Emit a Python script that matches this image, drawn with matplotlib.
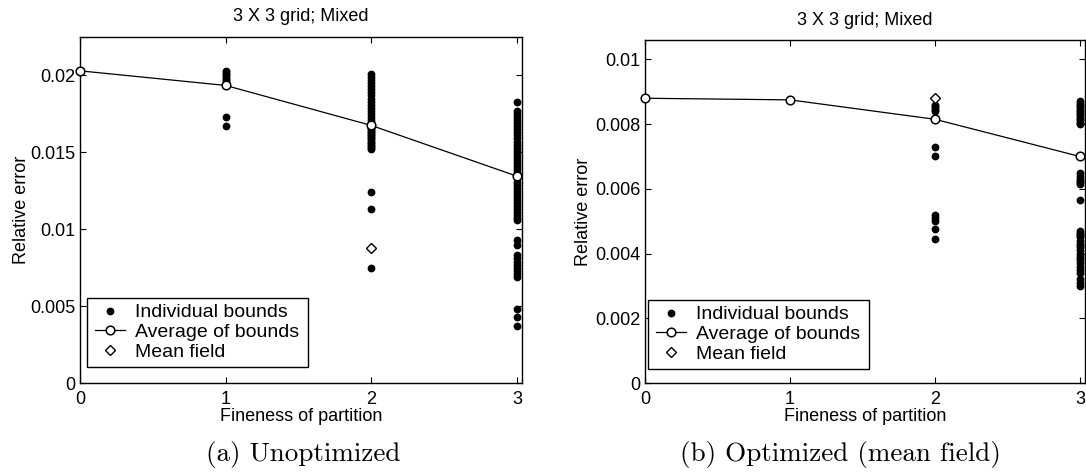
import matplotlib
matplotlib.use("Agg")
import matplotlib.pyplot as plt
from matplotlib.lines import Line2D
from matplotlib.patches import Rectangle

# ---------------- data ----------------
fineness = [0, 1, 2, 3]

# (a) Unoptimized
avg_left = [0.0203, 0.01935, 0.01675, 0.01345]
mean_field_x_left = [2]
mean_field_left = [0.0088]
ind_left_x1 = [0.0203, 0.0202, 0.0201, 0.0200, 0.0199, 0.0198, 0.0197, 0.0196,
               0.0195, 0.0173, 0.0167]
ind_left_x2 = [0.0201, 0.0199, 0.0197, 0.0195, 0.0193, 0.0191, 0.0189, 0.0187,
               0.0185, 0.0183, 0.0181, 0.0179, 0.0177, 0.0175, 0.0173, 0.0171,
               0.0169, 0.0167, 0.0166, 0.0165, 0.0164, 0.0163, 0.0162, 0.0161,
               0.0160, 0.0159, 0.0158, 0.0157, 0.0156, 0.0155, 0.0154, 0.0153,
               0.0152, 0.0124, 0.0113, 0.0075]
ind_left_x3 = [0.0183, 0.0177, 0.0175, 0.0173, 0.0171, 0.0169, 0.0167, 0.0165,
               0.0163, 0.0161, 0.0159, 0.0157, 0.0155, 0.0153, 0.0151, 0.0149,
               0.0147, 0.0145, 0.0143, 0.0141, 0.0139, 0.0137, 0.0135, 0.0133,
               0.0131, 0.0129, 0.0127, 0.0125, 0.0123, 0.0121, 0.0119, 0.0117,
               0.0115, 0.0113, 0.0111, 0.0109, 0.0107, 0.0106, 0.0093, 0.0090,
               0.0083, 0.0081, 0.0079, 0.0077, 0.0075, 0.0073, 0.0071, 0.0069,
               0.0048, 0.0043, 0.0037]
yticks_left = [0, 0.005, 0.01, 0.015, 0.02]
yticklabels_left = ["0", "0.005", "0.01", "0.015", "0.02"]

# (b) Optimized (mean field)
avg_right = [0.0088, 0.00875, 0.00815, 0.0070]
mean_field_x_right = [2]
mean_field_right = [0.0088]
ind_right_x2 = [0.0086, 0.00855, 0.0085, 0.00845, 0.0084, 0.0082, 0.0073,
                0.0070, 0.0052, 0.0051, 0.0050, 0.00475, 0.00445]
ind_right_x3 = [0.0087, 0.00865, 0.0086, 0.00855, 0.0085, 0.00845, 0.0084,
                0.00835, 0.0083, 0.00825, 0.0082, 0.00815, 0.0081, 0.00805,
                0.0080, 0.00648, 0.0064, 0.0063, 0.00625, 0.0062, 0.00615,
                0.00567, 0.0047, 0.00465, 0.0046, 0.00455, 0.0045, 0.0044,
                0.0043, 0.00425, 0.0042, 0.0041, 0.0040, 0.0039, 0.00385,
                0.0038, 0.0037, 0.0036, 0.0035, 0.0034, 0.0032, 0.0031, 0.0030]
yticks_right = [0, 0.002, 0.004, 0.006, 0.008, 0.01]
yticklabels_right = ["0", "0.002", "0.004", "0.006", "0.008", "0.01"]

xticks = [0, 1, 2, 3]
title_text = "3 X 3 grid; Mixed"
xlabel_text = "Fineness of partition"
ylabel_text = "Relative error"
legend_labels = ["Individual bounds", "Average of bounds", "Mean field"]
captions = ["(a) Unoptimized", "(b) Optimized (mean field)"]

# ---------------- drawing ----------------
plt.rcParams['font.family'] = ['Liberation Sans', 'DejaVu Sans']
FS = 13
LFS = 14

W, H = 1086, 474
fig = plt.figure(figsize=(W / 100, H / 100), dpi=100)


def px_axes(l, t, r, b):
    return fig.add_axes([l / W, 1 - b / H, (r - l) / W, (b - t) / H])


def draw_panel(ax, avg, mfx, mf, ind_cols, ylim, yticks, yticklabels,
               ylab_x, box):
    for xv, col in ind_cols:
        ax.plot([xv] * len(col), col, linestyle='none', marker='o',
                ms=4.6, mfc='black', mec='black', clip_on=False, zorder=3)
    ax.plot(fineness, avg, color='black', lw=0.9, marker='o', ms=6.2,
            mfc='white', mec='black', mew=1.1, clip_on=False, zorder=4)
    ax.plot(mfx, mf, linestyle='none', marker='D', ms=5.2, mfc='white',
            mec='black', mew=1.0, clip_on=False, zorder=5)
    ax.set_xlim(0, 3.035)
    ax.set_ylim(*ylim)
    ax.set_xticks(xticks)
    ax.set_xticklabels([str(v) for v in xticks])
    ax.set_yticks(yticks)
    ax.set_yticklabels(yticklabels)
    ax.tick_params(direction='in', top=True, right=True, length=4,
                   width=0.8, labelsize=FS, pad=3)
    ax.tick_params(axis='x', pad=6)
    for s in ax.spines.values():
        s.set_linewidth(1.0)
        s.set_color('black')
    ax.set_xlabel(xlabel_text, fontsize=FS)
    ax.xaxis.set_label_coords(0.5, -0.072)
    ax.set_ylabel(ylabel_text, fontsize=FS)
    ax.yaxis.set_label_coords(ylab_x, 0.5)
    ax.text(0.5, 1.058, title_text, transform=ax.transAxes, ha='center',
            va='center', fontsize=FS)
    # legend box
    x0, y0, x1, y1 = box
    ax.add_patch(Rectangle((x0, y0), x1 - x0, y1 - y0, transform=ax.transAxes,
                           facecolor='white', edgecolor='black', lw=1.0,
                           zorder=6, clip_on=False))
    handles = [
        Line2D([], [], linestyle='none', marker='o', ms=4.6, mfc='black',
               mec='black'),
        Line2D([], [], color='black', lw=0.9, marker='o', ms=6.2,
               mfc='white', mec='black', mew=1.1),
        Line2D([], [], linestyle='none', marker='D', ms=5.2, mfc='white',
               mec='black', mew=1.0),
    ]
    leg = ax.legend(handles, legend_labels, loc='center left',
                    bbox_to_anchor=(x0, (y0 + y1) / 2), fontsize=LFS,
                    frameon=False, handlelength=1.55, handletextpad=0.5,
                    borderpad=0.4, labelspacing=0.12, borderaxespad=0)
    leg.set_zorder(7)


ax1 = px_axes(80, 37, 522, 383)
draw_panel(ax1, avg_left, mean_field_x_left, mean_field_left,
           [(1, ind_left_x1), (2, ind_left_x2), (3, ind_left_x3)],
           (0, 0.0225), yticks_left, yticklabels_left, -0.114,
           (0.016, 0.046, 0.516, 0.246))

ax2 = px_axes(645, 40, 1085, 383)
draw_panel(ax2, avg_right, mean_field_x_right, mean_field_right,
           [(2, ind_right_x2), (3, ind_right_x3)],
           (0, 0.0106), yticks_right, yticklabels_right, -0.12,
           (0.007, 0.041, 0.509, 0.242))

fig.text(303 / W, 1 - 454 / H, captions[0], ha='center', va='center',
         fontsize=19.5, family=['cmr10', 'DejaVu Serif'])
fig.text(840 / W, 1 - 454 / H, captions[1], ha='center', va='center',
         fontsize=19.5, family=['cmr10', 'DejaVu Serif'])

fig.savefig("out.png", dpi=100)
